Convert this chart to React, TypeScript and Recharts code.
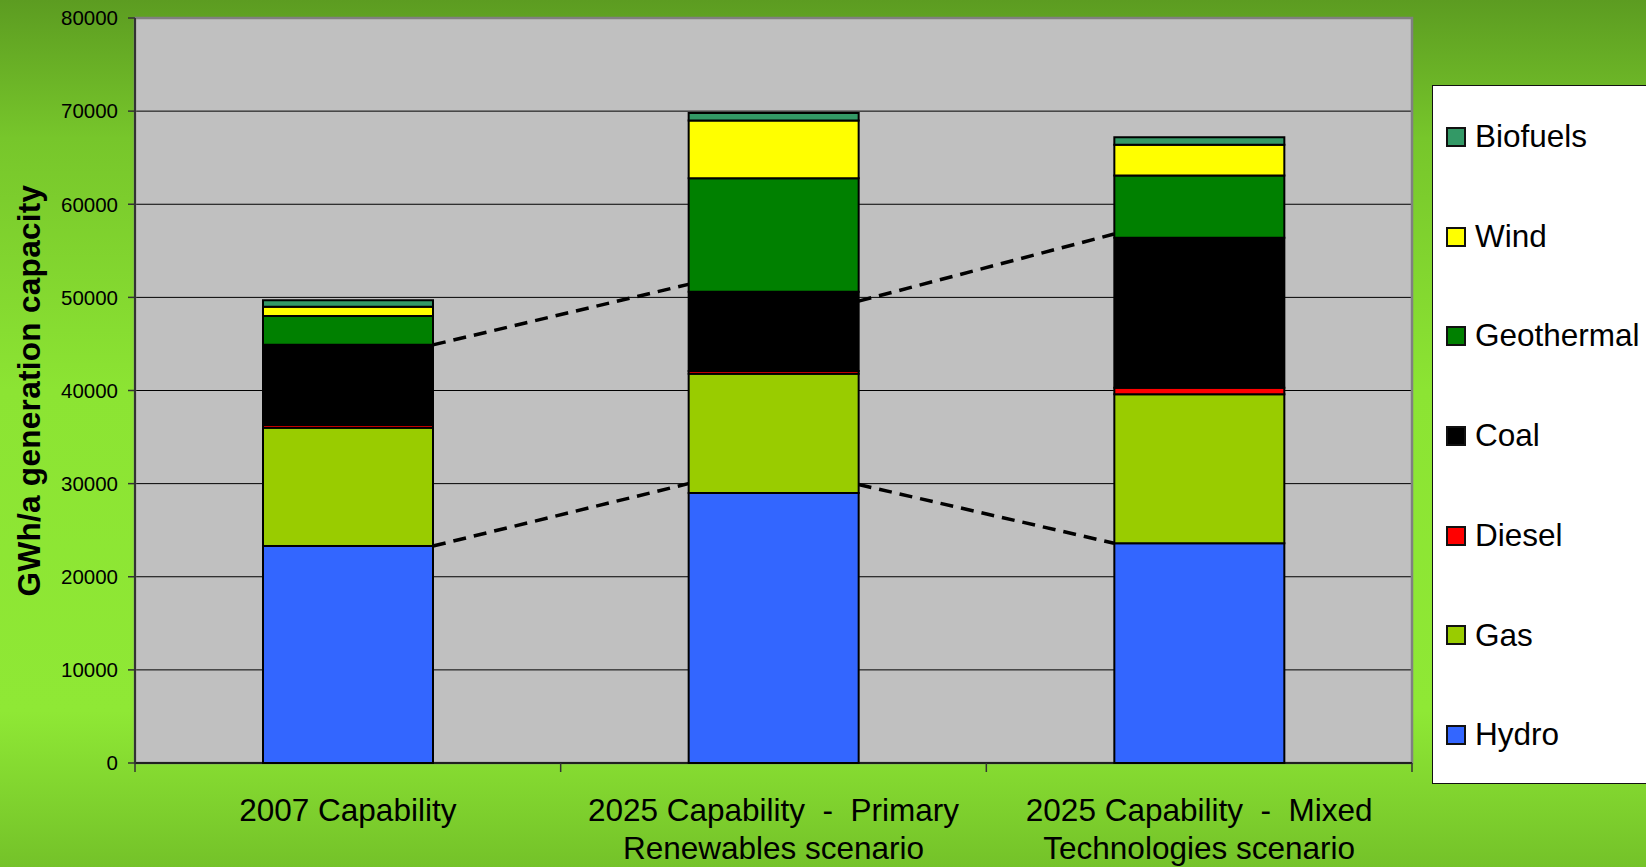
import React from 'react';
import {
  ComposedChart,
  Bar,
  XAxis,
  YAxis,
  CartesianGrid,
  ReferenceLine,
  ReferenceArea,
  Legend,
} from 'recharts';

// ---- data ----
const categoryLines: string[][] = [
  ['2007 Capability'],
  ['2025 Capability  -  Primary', 'Renewables scenario'],
  ['2025 Capability  -  Mixed', 'Technologies scenario'],
];
const seriesNames = ['Hydro', 'Gas', 'Diesel', 'Coal', 'Geothermal', 'Wind', 'Biofuels'];
const seriesColors = ['#3366FF', '#99CC00', '#FF0000', '#000000', '#008000', '#FFFF00', '#339966'];
const hydro = [23300, 29000, 23600];
const gas = [12700, 12800, 16000];
const diesel = [300, 300, 700];
const coal = [8600, 8500, 16100];
const geothermal = [3100, 12200, 6700];
const wind = [1000, 6200, 3300];
const biofuels = [700, 800, 800];
const yTicks = [0, 10000, 20000, 30000, 40000, 50000, 60000, 70000, 80000];
// dashed connectors between neighbouring bars: [value at left bar edge, value at right bar edge]
const lowerLinks = [
  [23300, 30000],
  [29900, 23600],
];
const upperLinks = [
  [44900, 51400],
  [49600, 56800],
];

const seriesValues = [hydro, gas, diesel, coal, geothermal, wind, biofuels];
const BAR_FRACTION = 0.4; // bar width as a fraction of category band

const data = categoryLines.map((_, i) => {
  const row: Record<string, number> = { x: i + 0.5 };
  seriesNames.forEach((n, s) => {
    row[n] = seriesValues[s][i];
  });
  return row;
});

const xTicks: number[] = [];
for (let i = 0; i <= categoryLines.length; i++) {
  xTicks.push(i);
  if (i < categoryLines.length) xTicks.push(i + 0.5);
}

const FONT = '"Liberation Sans", Arial, Helvetica, sans-serif';

const XTick = (props: any) => {
  const { x, y, payload } = props;
  const v = payload.value as number;
  if (Number.isInteger(v)) {
    return <line x1={x} x2={x} y1={y} y2={y + 9} stroke="#333" strokeWidth={1.5} />;
  }
  const lines = categoryLines[Math.floor(v)] || [];
  return (
    <text textAnchor="middle" fontSize={31.5} fill="#000" fontFamily={FONT} style={{ whiteSpace: 'pre' }}>
      {lines.map((l, i) => (
        <tspan key={i} x={x} y={y + 58 + i * 38}>
          {l}
        </tspan>
      ))}
    </text>
  );
};

const YLabel = (props: any) => {
  const vb = props.viewBox || { x: 0, y: 18, width: 135, height: 745 };
  const cx = vb.x + 40;
  const cy = vb.y + vb.height / 2;
  return (
    <text
      x={cx}
      y={cy}
      transform={`rotate(-90, ${cx}, ${cy})`}
      textAnchor="middle"
      fontSize={31.5}
      fontWeight="bold"
      fontFamily={FONT}
      fill="#000"
      letterSpacing={0.3}
    >
      GWh/a generation capacity
    </text>
  );
};

const LegendBox = () => {
  const order = seriesNames.map((n, i) => ({ n, c: seriesColors[i] })).reverse();
  return (
    <div
      style={{
        width: 240,
        height: 699,
        boxSizing: 'border-box',
        background: '#fff',
        border: '1.5px solid #111',
        paddingTop: 1,
        fontFamily: FONT,
      }}
    >
      {order.map((it) => (
        <div
          key={it.n}
          style={{ height: 99.7, display: 'flex', alignItems: 'center', paddingLeft: 13 }}
        >
          <div
            style={{
              width: 20,
              height: 20,
              boxSizing: 'border-box',
              background: it.c,
              border: '2px solid #111',
            }}
          />
          <span style={{ marginLeft: 9, fontSize: 31.5, color: '#000', lineHeight: 1 }}>{it.n}</span>
        </div>
      ))}
    </div>
  );
};

export default function App() {
  const links = [...lowerLinks, ...upperLinks].map((pair, k) => {
    const i = k % lowerLinks.length;
    return {
      key: k,
      x1: i + 0.5 + BAR_FRACTION / 2,
      x2: i + 1.5 - BAR_FRACTION / 2,
      y1: pair[0],
      y2: pair[1],
    };
  });
  return (
    <div
      style={{
        position: 'absolute',
        left: 0,
        top: 0,
        width: 1646,
        height: 867,
        overflow: 'hidden',
        background:
          'linear-gradient(to bottom, #5c9c21 0%, #77c62b 16%, #8ce433 45%, #8fe835 82%, #74c229 100%)',
        fontFamily: FONT,
      }}
    >
      <ComposedChart
        width={1646}
        height={867}
        data={data}
        margin={{ top: 18, right: 234, bottom: 0, left: 0 }}
      >
        <CartesianGrid horizontal vertical={false} fill="#C0C0C0" stroke="#000" strokeOpacity={1} />
        <XAxis
          type="number"
          dataKey="x"
          domain={[0, categoryLines.length]}
          ticks={xTicks}
          interval={0}
          height={104}
          tickSize={0}
          tickMargin={0}
          tickLine={false}
          axisLine={{ stroke: '#000', strokeWidth: 1.5 }}
          tick={<XTick />}
          allowDecimals
        />
        <YAxis
          domain={[0, 80000]}
          ticks={yTicks}
          interval={0}
          width={135}
          tickSize={7}
          tickMargin={10}
          axisLine={{ stroke: '#333', strokeWidth: 2 }}
          tickLine={{ stroke: '#333', strokeWidth: 1.5 }}
          tick={{ fontSize: 20.5, fill: '#000', fontFamily: FONT }}
          label={<YLabel />}
        />
        <ReferenceArea
          x1={0}
          x2={categoryLines.length}
          y1={0}
          y2={80000}
          fill="none"
          fillOpacity={0}
          stroke="#808080"
          strokeWidth={2.5}
          ifOverflow="visible"
        />
        {seriesNames.map((n, i) => (
          <Bar
            key={n}
            dataKey={n}
            stackId="a"
            fill={seriesColors[i]}
            stroke="#000"
            strokeWidth={2}
            barSize={170}
            isAnimationActive={false}
          />
        ))}
        {links.map((l) => (
          <ReferenceLine
            key={l.key}
            segment={[
              { x: l.x1, y: l.y1 },
              { x: l.x2, y: l.y2 },
            ]}
            stroke="#000"
            strokeWidth={3.5}
            strokeDasharray="13 8"
          />
        ))}
        <Legend
          layout="vertical"
          align="center"
          verticalAlign="middle"
          content={<LegendBox />}
          wrapperStyle={{ position: 'absolute', left: 1432, top: 85, width: 240, height: 699 }}
        />
      </ComposedChart>
    </div>
  );
}
